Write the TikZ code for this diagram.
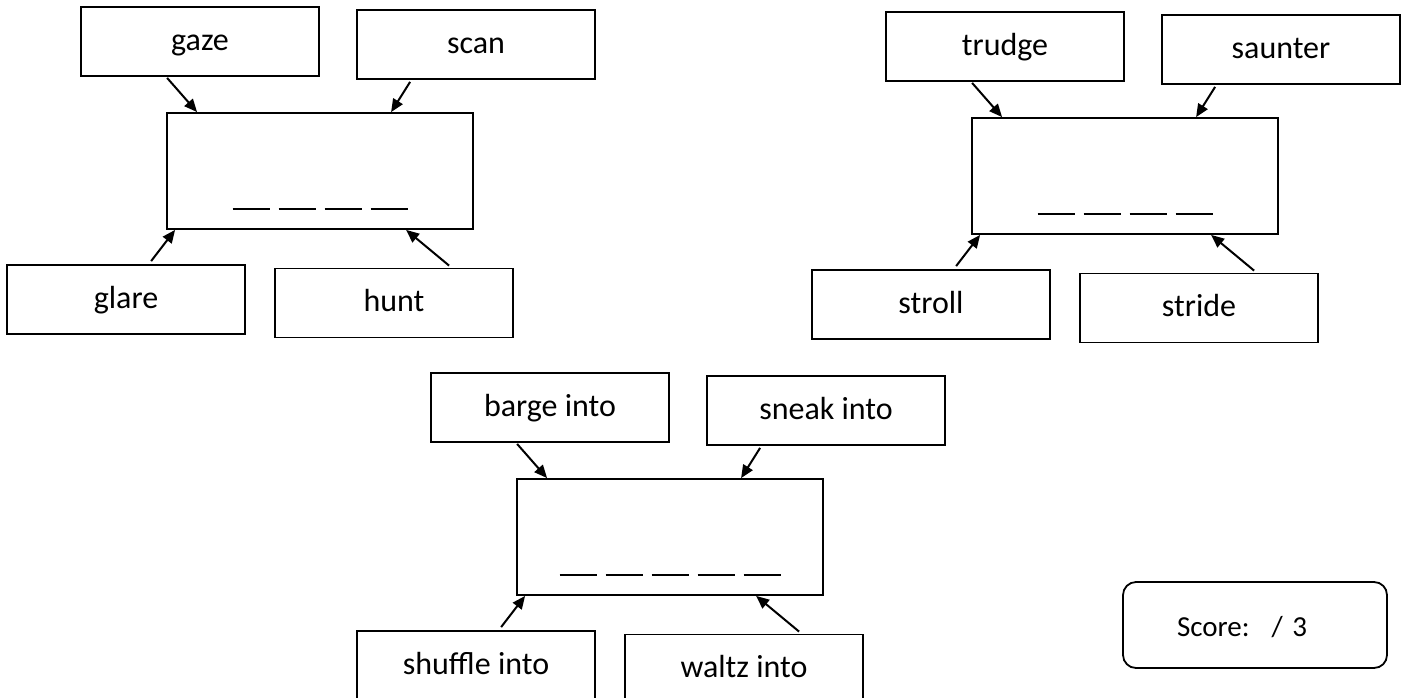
\documentclass[tikz,border=0pt]{standalone}
\usepackage{fontspec}
\setmainfont{Carlito}
\usetikzlibrary{arrows.meta,calc}
\tikzset{
  wbox/.style={draw, line width=1.8pt, minimum width=238pt, minimum height=69pt, inner sep=0pt,
    text height=24pt, text depth=7pt, font=\fontsize{32}{36}\selectfont},
  cbox/.style={draw, line width=1.8pt, minimum width=306pt, minimum height=116pt, inner sep=0pt},
  arr/.style={line width=2pt, -{Triangle[length=13pt,width=11pt]}},
  blank/.style={line width=2pt},
  scorebox/.style={draw, line width=1.8pt, rounded corners=13pt, minimum width=264pt, minimum height=86pt,
    text width=156pt, inner xsep=54pt, inner ysep=0pt, align=left, text height=25pt, text depth=2pt,
    font=\fontsize{29}{34}\selectfont}
}
\newcommand{\wordcluster}[7]{%
  \begin{scope}[shift={#1}]
    \node[wbox] (#2tl) at (200,41.5) {#3};
    \node[wbox] (#2tr) at (476,44.5) {#4};
    \node[cbox] (#2c) at (320,171) {};
    \node[wbox] (#2bl) at (126,299.5) {#5};
    \node[wbox] (#2br) at (394,303) {#6};
  \end{scope}
  \draw[arr] ([xshift=87pt,yshift=-1pt]#2tl.south west) -- ([xshift=31pt]#2c.north west);
  \draw[arr] ([xshift=54pt,yshift=-2pt]#2tr.south west) -- ([xshift=225pt]#2c.north west);
  \draw[arr] ([xshift=145pt,yshift=3pt]#2bl.north west) -- ([xshift=9pt]#2c.south west);
  \draw[arr] ([xshift=175pt,yshift=2pt]#2br.north west) -- ([xshift=240pt]#2c.south west);
  \foreach \k in {1,...,#7}{
    \pgfmathsetmacro\xa{-(46*#7-9)/2+46*(\k-1)}
    \draw[blank] ([xshift=\xa pt,yshift=-97pt]#2c.north) -- ++(37,0);
  }
}
\begin{document}
\begin{tikzpicture}[x=1pt,y=-1pt]
  \useasboundingbox (0,0) rectangle (1407,697);
  \fill[white] (0,0) rectangle (1407,697);
  \wordcluster{(0,0)}{a}{gaze}{scan}{glare}{hunt}{4}
  \wordcluster{(805,5)}{b}{trudge}{saunter}{stroll}{stride}{4}
  \wordcluster{(350,366)}{d}{barge into}{sneak into}{shuffle into}{waltz into}{5}
  \node[scorebox] (score) at (1255,625) {Score:\hspace{22pt}/ 3};
\end{tikzpicture}
\end{document}
